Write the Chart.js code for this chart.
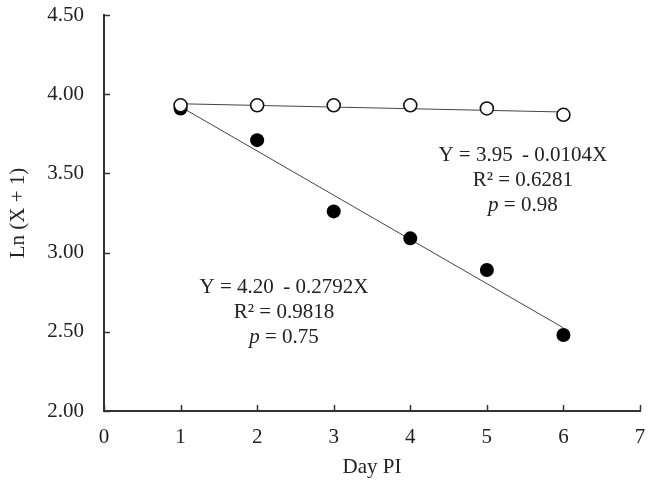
<!DOCTYPE html>
<html>
<head>
<meta charset="utf-8">
<script src="https://cdn.jsdelivr.net/npm/chart.js@4.4.0/dist/chart.umd.min.js"></script>
<style>
  html, body { margin: 0; padding: 0; background: #fff; }
  .wrap { width: 652px; height: 486px; position: relative; }
</style>
</head>
<body>
<div class="wrap"><canvas id="chart"></canvas></div>
<script>
// data
const days = [1, 2, 3, 4, 5, 6];
const openValues = [3.93, 3.93, 3.93, 3.93, 3.91, 3.87];
const filledValues = [3.91, 3.71, 3.26, 3.09, 2.89, 2.48];
const xTicks = [0, 1, 2, 3, 4, 5, 6, 7];
const yTicks = [2.0, 2.5, 3.0, 3.5, 4.0, 4.5];

// regression lines as printed on the chart
const openFit = { a: 3.95, b: -0.0104, r2: "0.6281", p: "0.98" };
const filledFit = { a: 4.20, b: -0.2792, r2: "0.9818", p: "0.75" };

const FONT = "'Liberation Serif', 'Times New Roman', serif";
const INK = "#222";

const toPoints = (xs, ys) => xs.map((x, i) => ({ x: x, y: ys[i] }));
const fitLine = (fit) => {
  const x0 = days[0];
  const x1 = days[days.length - 1];
  return [{ x: x0, y: fit.a + fit.b * x0 }, { x: x1, y: fit.a + fit.b * x1 }];
};

// inward tick marks + equation labels
const extras = {
  id: "extras",
  afterDraw(chart) {
    const ctx = chart.ctx;
    const xs = chart.scales.x;
    const ys = chart.scales.y;
    ctx.save();
    ctx.strokeStyle = "#333";
    ctx.lineWidth = 1.5;
    xTicks.forEach((t) => {
      const px = Math.round(xs.getPixelForValue(t)) + 0.5;
      ctx.beginPath();
      ctx.moveTo(px, ys.bottom);
      ctx.lineTo(px, ys.bottom - 6);
      ctx.stroke();
    });
    yTicks.forEach((t) => {
      const py = Math.round(ys.getPixelForValue(t)) + 0.5;
      ctx.beginPath();
      ctx.moveTo(xs.left, py);
      ctx.lineTo(xs.left + 6, py);
      ctx.stroke();
    });

    const drawBlock = (fit, cx, cy) => {
      const x = xs.getPixelForValue(cx);
      const y = ys.getPixelForValue(cy);
      const gap = 25;
      ctx.fillStyle = INK;
      ctx.textBaseline = "middle";
      ctx.textAlign = "center";
      ctx.font = "21px " + FONT;
      const sign = fit.b < 0 ? "-" : "+";
      ctx.fillText("Y = " + fit.a.toFixed(2) + " \u2009" + sign + " " + Math.abs(fit.b).toFixed(4) + "X", x, y);
      ctx.fillText("R\u00b2 = " + fit.r2, x, y + gap);
      // p value with italic p
      const rest = " = " + fit.p;
      ctx.font = "italic 21px " + FONT;
      const wp = ctx.measureText("p").width;
      ctx.font = "21px " + FONT;
      const wr = ctx.measureText(rest).width;
      const start = x - (wp + wr) / 2;
      ctx.textAlign = "left";
      ctx.font = "italic 21px " + FONT;
      ctx.fillText("p", start, y + gap * 2);
      ctx.font = "21px " + FONT;
      ctx.fillText(rest, start + wp, y + gap * 2);
    };
    drawBlock(openFit, 5.47, 3.615);
    drawBlock(filledFit, 2.35, 2.78);
    ctx.restore();
  }
};

new Chart(document.getElementById("chart"), {
  type: "scatter",
  data: {
    datasets: [
      {
        label: "open",
        data: toPoints(days, openValues),
        pointRadius: 6.5,
        pointBorderWidth: 1.6,
        pointBorderColor: "#111",
        pointBackgroundColor: "#fff",
      },
      {
        label: "filled",
        data: toPoints(days, filledValues),
        pointRadius: 7,
        pointBorderWidth: 0,
        pointBackgroundColor: "#000",
        pointBorderColor: "#000",
      },
      {
        label: "open fit",
        data: fitLine(openFit),
        showLine: true,
        borderColor: "#444",
        borderWidth: 1,
        pointRadius: 0,
      },
      {
        label: "filled fit",
        data: fitLine(filledFit),
        showLine: true,
        borderColor: "#444",
        borderWidth: 1,
        pointRadius: 0,
      },
    ],
  },
  options: {
    responsive: true,
    maintainAspectRatio: false,
    animation: false,
    layout: { padding: { top: 15, right: 12, left: 0, bottom: 0 } },
    plugins: {
      legend: { display: false },
      tooltip: { enabled: false },
    },
    scales: {
      x: {
        type: "linear",
        min: 0,
        max: 7,
        afterFit: (s) => { s.height = 75; s.paddingLeft = 0; s.paddingRight = 0; },
        afterBuildTicks: (s) => { s.ticks = xTicks.map((v) => ({ value: v })); },
        grid: { display: false, drawTicks: false },
        border: { display: true, color: "#333", width: 2 },
        ticks: { color: INK, padding: 14, font: { family: FONT, size: 21 } },
        title: {
          display: true,
          text: "Day PI",
          color: INK,
          padding: { top: 0, bottom: 6 },
          font: { family: FONT, size: 21 },
        },
      },
      y: {
        type: "linear",
        min: 2,
        max: 4.5,
        afterFit: (s) => { s.width = 104; s.paddingTop = 0; s.paddingBottom = 0; },
        afterBuildTicks: (s) => { s.ticks = yTicks.map((v) => ({ value: v })); },
        grid: { display: false, drawTicks: false },
        border: { display: true, color: "#333", width: 2 },
        ticks: {
          color: INK,
          padding: 20,
          font: { family: FONT, size: 21 },
          callback: (v) => Number(v).toFixed(2),
        },
        title: {
          display: true,
          text: "Ln (X + 1)",
          color: INK,
          padding: { top: 6, bottom: 0 },
          font: { family: FONT, size: 21 },
        },
      },
    },
  },
  plugins: [extras],
});
</script>
</body>
</html>
